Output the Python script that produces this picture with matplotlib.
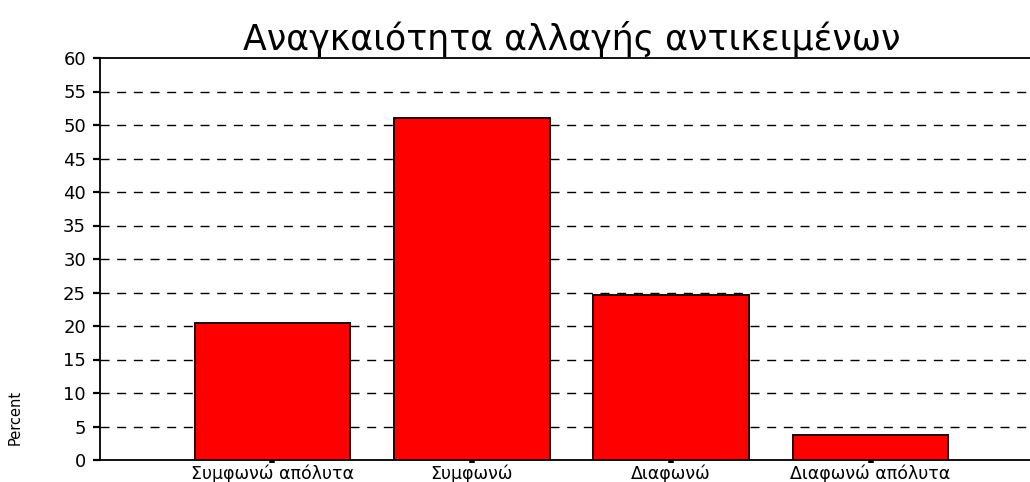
import matplotlib.pyplot as plt

# Response shares (percent) per answer category
categories = ["Συμφωνώ απόλυτα", "Συμφωνώ", "Διαφωνώ", "Διαφωνώ απόλυτα"]
percent = [20.5, 51.0, 24.7, 3.8]
y_ticks = list(range(0, 61, 5))

plt.rcParams["font.family"] = ["DejaVu Sans"]

fig = plt.figure(figsize=(10.3, 4.82), dpi=100)
ax = fig.add_axes([100 / 1030, 22 / 482, 943 / 1030, 402 / 482])

x = list(range(len(categories)))
ax.bar(x, percent, width=0.78, color="#ff0000", edgecolor="#2a0000",
       linewidth=1.4, zorder=3)

# dashed reference lines at every tick except the frame edges
for v in y_ticks[1:-1]:
    ax.axhline(v, color="black", linewidth=1.0, linestyle=(0, (6.5, 5.5)),
               zorder=1)

ax.set_xlim(-0.865, 3.865)
ax.set_ylim(0, 60)
ax.set_yticks(y_ticks)
ax.set_xticks(x)
ax.set_xticklabels(categories, fontsize=12.5)
ax.tick_params(axis="y", direction="out", length=5, width=1.6,
               labelsize=13, pad=5)
ax.tick_params(axis="x", direction="out", length=2.5, width=4, pad=0.5)

for side in ("left", "top", "bottom"):
    ax.spines[side].set_linewidth(1.3)
ax.spines["right"].set_visible(False)

ax.set_title("Αναγκαιότητα αλλαγής αντικειμένων", fontsize=25, pad=6)
ax.set_ylabel("Percent", fontsize=10.5)
ax.yaxis.set_label_coords(-0.082, 0.105)

fig.savefig("out.png", dpi=100)
